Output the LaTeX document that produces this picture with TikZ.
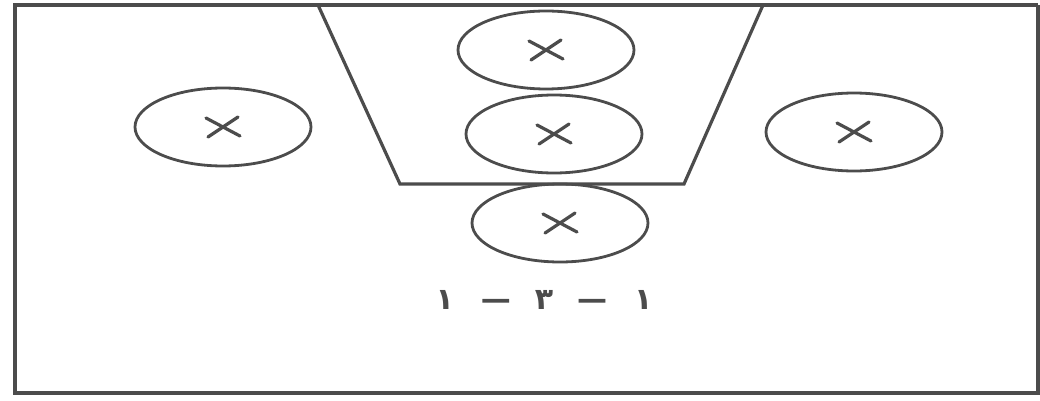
\documentclass[tikz,border=0pt]{standalone}
\usepackage{fontspec}
\usetikzlibrary{shapes.geometric,calc}
\newfontfamily\arabicfont[Script=Arabic]{DejaVu Sans}
\TeXXeTstate=1
\definecolor{ink}{HTML}{4c4c4c}
\tikzset{
  line/.style={draw=ink, line width=3.2pt},
  zone/.style={ellipse, draw=ink, line width=2.8pt, minimum width=176pt, minimum height=78pt, inner sep=0pt},
  xmark/.style={draw=ink, line width=3.2pt, line cap=round}
}
\newcommand{\xcross}[1]{\draw[xmark] ($(#1)+(-17,-9)$) -- ($(#1)+(17,9)$) ($(#1)+(-15,10)$) -- ($(#1)+(15,-10)$);}
\begin{document}
\begin{tikzpicture}[x=1pt,y=-1pt]
\useasboundingbox (0,0) rectangle (1040,401);
\coordinate (tl) at (15,5);
\coordinate (tr) at (1038,5);
\coordinate (br) at (1038,393);
\coordinate (bl) at (15,393);
\draw[line] (tr) -- (tl) -- (bl) -- (br) -- (tr);
\coordinate (ta) at (318,5);
\coordinate (tb) at (400,184);
\coordinate (tc) at (684,184);
\coordinate (td) at (763,5);
\draw[line, line join=miter] (ta) -- (tb) -- (tc) -- (td);
\node[zone] (e1) at (546,50) {};
\node[zone] (e2) at (554,134) {};
\node[zone] (e3) at (560,223) {};
\node[zone] (e4) at (223,127) {};
\node[zone] (e5) at (854,132) {};
\xcross{e1}
\xcross{e2}
\xcross{e3}
\xcross{e4}
\xcross{e5}
\node[text=ink, inner sep=0pt] (lab) at (544,300) {\fontsize{30}{34}\selectfont\bfseries\arabicfont\beginR ١\hspace{27pt}—\hspace{24pt}٣\hspace{24pt}—\hspace{27pt}١\endR};
\end{tikzpicture}
\end{document}
